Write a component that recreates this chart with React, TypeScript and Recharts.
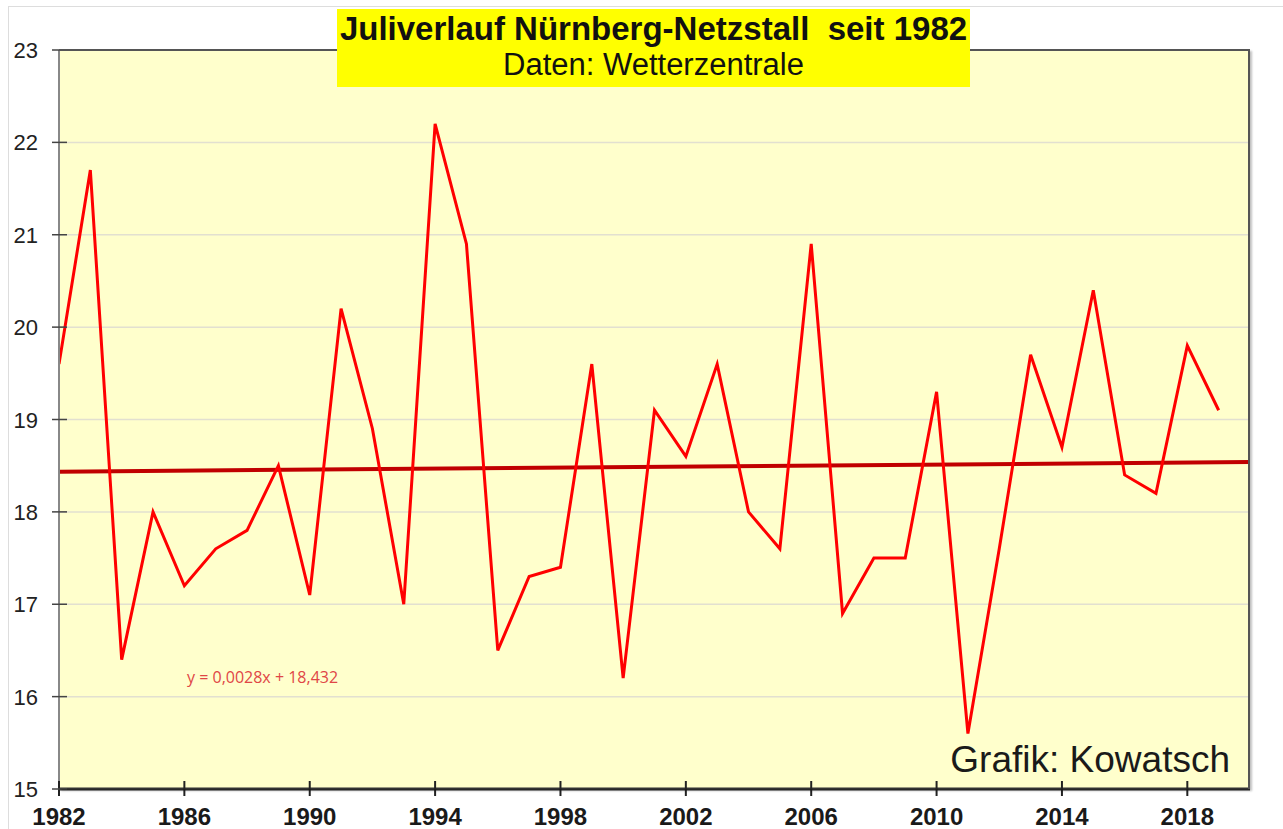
import React from "react";
import { LineChart, Line, XAxis, YAxis, CartesianGrid } from "recharts";

const years = [1982,1983,1984,1985,1986,1987,1988,1989,1990,1991,1992,1993,1994,1995,1996,1997,1998,1999,2000,2001,2002,2003,2004,2005,2006,2007,2008,2009,2010,2011,2012,2013,2014,2015,2016,2017,2018,2019];
const temps = [19.6,21.7,16.4,18.0,17.2,17.6,17.8,18.5,17.1,20.2,18.9,17.0,22.2,20.9,16.5,17.3,17.4,19.6,16.2,19.1,18.6,19.6,18.0,17.6,20.9,16.9,17.5,17.5,19.3,15.6,17.6,19.7,18.7,20.4,18.4,18.2,19.8,19.1];
const trendYears = [1982, 2020];
const trendValues = [18.435, 18.54];
const xTicks = [1982,1986,1990,1994,1998,2002,2006,2010,2014,2018];
const yTicks = [15,16,17,18,19,20,21,22,23];
const titleLine1 = "Juliverlauf Nürnberg-Netzstall  seit 1982";
const titleLine2 = "Daten: Wetterzentrale";
const equation = "y = 0,0028x + 18,432";
const credit = "Grafik: Kowatsch";

const data = years.map((y, i) => ({ year: y, temp: temps[i] }));
const trendData = trendYears.map((y, i) => ({ year: y, trend: trendValues[i] }));

const FONT = "'Liberation Sans', Arial, sans-serif";

const XTick = (props: any) => {
  const { x, y, payload } = props;
  return (
    <g>
      <line x1={x} x2={x} y1={y - 8} y2={y + 7} stroke="#222" strokeWidth={2} />
      <text x={x} y={y + 36} textAnchor="middle" fontFamily={FONT} fontWeight="bold" fontSize={24} fill="#1a1a1a">
        {payload.value}
      </text>
    </g>
  );
};

const YTick = (props: any) => {
  const { x, y, payload } = props;
  return (
    <g>
      <line x1={x - 7} x2={x + 8} y1={y} y2={y} stroke="#444" strokeWidth={1.5} />
      <text x={x - 21} y={y + 8} textAnchor="end" fontFamily={FONT} fontSize={22} fill="#222">
        {payload.value}
      </text>
    </g>
  );
};

export default function App() {
  return (
    <div style={{ position: "absolute", left: 0, top: 0, width: 1283, height: 829, background: "#fff", overflow: "hidden" }}>
      <div style={{ position: "absolute", left: 8, top: 6, width: 1300, height: 900, borderLeft: "1px solid #ddd", borderTop: "1px solid #ddd" }} />
      <LineChart width={1283} height={829} data={data} margin={{ top: 50, right: 33, left: 0, bottom: 0 }}>
        <CartesianGrid vertical={false} horizontal={true} fill="#FFFFCC" stroke="#E2E0D0" strokeWidth={1.5} />
        <XAxis
          dataKey="year"
          type="number"
          domain={[1982, 2020]}
          ticks={xTicks}
          allowDataOverflow
          height={40}
          tickSize={0}
          tickMargin={0}
          tickLine={false}
          axisLine={{ stroke: "#333", strokeWidth: 3 }}
          tick={<XTick />}
          interval={0}
        />
        <YAxis
          type="number"
          domain={[15, 23]}
          ticks={yTicks}
          width={59}
          tickSize={0}
          tickMargin={0}
          tickLine={false}
          axisLine={{ stroke: "#888", strokeWidth: 2 }}
          tick={<YTick />}
          interval={0}
        />
        <Line data={trendData} dataKey="trend" stroke="#C00000" strokeWidth={4} dot={false} isAnimationActive={false} />
        <Line dataKey="temp" stroke="#FF0000" strokeWidth={3} dot={false} isAnimationActive={false} strokeLinejoin="miter" />
      </LineChart>
      <div style={{ position: "absolute", left: 59, top: 49, width: 1191, height: 740, borderTop: "2px solid #555", borderRight: "2px solid #555", boxShadow: "2px 2px 2px rgba(0,0,0,0.25)", boxSizing: "border-box", pointerEvents: "none" }} />
      <div style={{ position: "absolute", left: 337, top: 9, width: 633, height: 78, background: "#FFFF00", textAlign: "center", fontFamily: FONT, color: "#111" }}>
        <div style={{ fontWeight: "bold", fontSize: 33, lineHeight: "36px", marginTop: 2, whiteSpace: "pre" }}>{titleLine1}</div>
        <div style={{ fontSize: 31, lineHeight: "36px", marginTop: 0 }}>{titleLine2}</div>
      </div>
      <div style={{ position: "absolute", left: 187, top: 666, fontFamily: "'Open Sans', sans-serif", fontSize: 16, color: "#E04646", whiteSpace: "pre" }}>{equation}</div>
      <div style={{ position: "absolute", right: 53, top: 740, fontFamily: FONT, fontSize: 37, color: "#1a1a1a", whiteSpace: "pre", lineHeight: "40px" }}>{credit}</div>
    </div>
  );
}
